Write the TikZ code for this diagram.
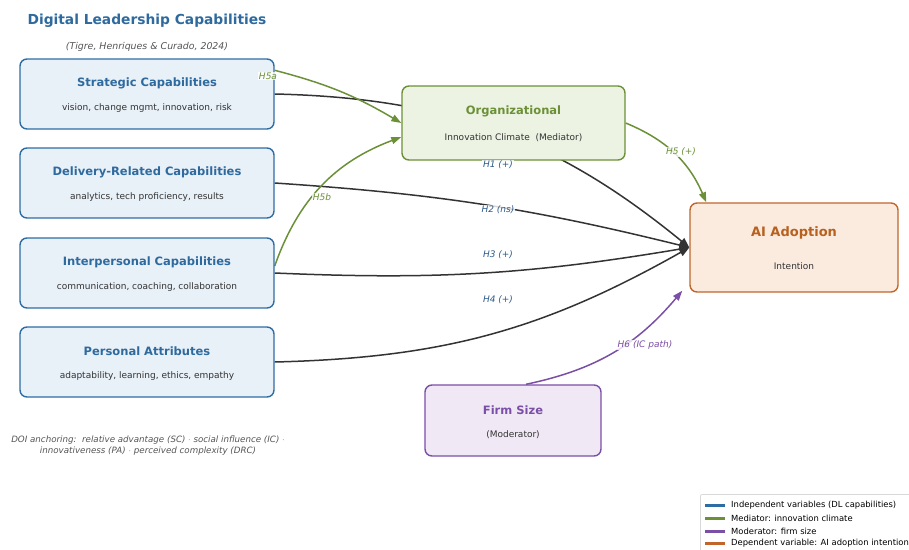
\documentclass[tikz,border=0pt]{standalone}
\usepackage{fontspec}
\setmainfont{DejaVu Sans}
\usetikzlibrary{arrows.meta,backgrounds,calc}
\definecolor{ivc}{HTML}{2E6DA4}
\definecolor{ivfill}{HTML}{E8F0F8}
\definecolor{ivt}{HTML}{2E6A9E}
\definecolor{hlab}{HTML}{2E5A8A}
\definecolor{medc}{HTML}{6B9037}
\definecolor{medfill}{HTML}{ECF3E2}
\definecolor{modc}{HTML}{7B4FA6}
\definecolor{modfill}{HTML}{F0E9F5}
\definecolor{dvc}{HTML}{C0662A}
\definecolor{dvfill}{HTML}{FBEBDF}
\definecolor{dvt}{HTML}{B8601E}
\definecolor{dark}{HTML}{333333}
\definecolor{txt}{HTML}{333333}
\definecolor{gtxt}{HTML}{555555}
\begin{document}
\begin{tikzpicture}[x=1pt,y=-1pt,
  box/.style={draw, rounded corners=7pt, line width=1.4pt, inner sep=0pt},
  ivbox/.style={box, draw=ivc, fill=ivfill, minimum width=254pt, minimum height=70pt},
  ttl/.style={font=\bfseries\fontsize{11.5}{13}\selectfont, inner sep=0pt},
  subt/.style={font=\fontsize{9}{11}\selectfont, text=txt, inner sep=0pt},
  hl/.style={font=\itshape\fontsize{9}{10}\selectfont, fill=white, fill opacity=0.8, text opacity=1, inner sep=1pt},
  darr/.style={draw=dark, line width=1.5pt, -{Triangle[length=10pt,width=8pt]}},
  garr/.style={draw=medc, line width=1.5pt, -{Triangle[length=10pt,width=7pt]}},
  parr/.style={draw=modc, line width=1.5pt, -{Triangle[length=10pt,width=7pt]}},
  legline/.style={line width=3pt},
  legtext/.style={font=\fontsize{8.4}{9}\selectfont, anchor=west, inner sep=0pt, text=black}
]
\useasboundingbox (0,0) rectangle (909,549);

% title
\node[font=\bfseries\fontsize{13.8}{16}\selectfont, text=ivt] (title) at (147,21) {Digital Leadership Capabilities};
\node[font=\itshape\fontsize{9.4}{10}\selectfont, text=gtxt] (cite) at (147,47) {(Tigre, Henriques \& Curado, 2024)};

% boxes
\node[ivbox] (sc) at (147,94) {};
\node[ivbox] (dr) at (147,183) {};
\node[ivbox] (ip) at (147,273) {};
\node[ivbox] (pa) at (147,362) {};
\node[box, draw=medc, fill=medfill, minimum width=223pt, minimum height=74pt] (org) at (513.5,123) {};
\node[box, draw=dvc, fill=dvfill, minimum width=208pt, minimum height=89pt] (ai) at (794,247.5) {};
\node[box, draw=modc, fill=modfill, minimum width=176pt, minimum height=71pt] (fs) at (513,420.5) {};

% box texts
\node[ttl, text=ivt] (sct) at ($(sc)+(0,-11)$) {Strategic Capabilities};
\node[subt] (scs) at ($(sc)+(0,14)$) {vision, change mgmt, innovation, risk};
\node[ttl, text=ivt] (drt) at ($(dr)+(0,-11)$) {Delivery-Related Capabilities};
\node[subt] (drs) at ($(dr)+(0,14)$) {analytics, tech proficiency, results};
\node[ttl, text=ivt] (ipt) at ($(ip)+(0,-11)$) {Interpersonal Capabilities};
\node[subt] (ips) at ($(ip)+(0,14)$) {communication, coaching, collaboration};
\node[ttl, text=ivt] (pat) at ($(pa)+(0,-11)$) {Personal Attributes};
\node[subt] (pas) at ($(pa)+(0,14)$) {adaptability, learning, ethics, empathy};
\node[ttl, text=medc] (orgt) at ($(org)+(0,-12)$) {Organizational};
\node[subt] (orgs) at ($(org)+(0,15)$) {Innovation Climate\ \ (Mediator)};
\node[font=\bfseries\fontsize{13}{15}\selectfont, text=dvt, inner sep=0pt] (ait) at ($(ai)+(0,-14.5)$) {AI Adoption};
\node[subt] (ais) at ($(ai)+(0,18.5)$) {Intention};
\node[ttl, text=modc] (fst) at ($(fs)+(0,-10.5)$) {Firm Size};
\node[subt] (fss) at ($(fs)+(0,14.5)$) {(Moderator)};

% connectors (behind boxes)
\begin{scope}[on background layer]
\draw[darr] (sc.east) to[bend left=19] (ai.west);
\draw[darr] (dr.east) to[bend left=5] (ai.west);
\draw[darr] (ip.east) to[bend right=6] (ai.west);
\draw[darr] (pa.east) to[bend right=14] (ai.west);
\coordinate (h5as) at ($(sc.north east)+(0,12)$);
\coordinate (h5bs) at ($(ip.east)+(0,-7)$);
\coordinate (h5be) at ($(org.west)+(0,14)$);
\coordinate (h5e) at ($(ai.north west)+(17,0)$);
\coordinate (h6s) at ($(fs.north)+(13,0)$);
\coordinate (h6e) at ($(ai.south west)+(-7,-2)$);
\draw[garr] (h5as) to[bend left=8] (org.west);
\draw[garr] (h5bs) to[bend left=25] (h5be);
\draw[garr] (org.east) to[bend left=22] (h5e);
\draw[parr] (h6s) to[bend right=19] (h6e);
\end{scope}

% path labels
\node[hl, text=hlab] (l1) at (498,165) {H1 (+)};
\node[hl, text=hlab] (l2) at (498,210) {H2 (ns)};
\node[hl, text=hlab] (l3) at (498,255) {H3 (+)};
\node[hl, text=hlab] (l4) at (498,300) {H4 (+)};
\node[hl, text=medc] (l5a) at (268,76) {H5a};
\node[hl, text=medc] (l5b) at (322,197) {H5b};
\node[hl, text=medc] (l5) at (681,152) {H5 (+)};
\node[hl, text=modc] (l6) at (645,345) {H6 (IC path)};

% DOI note
\node[font=\itshape\fontsize{8.7}{11}\selectfont, text=gtxt, align=center] (doi) at (148,445.5) {DOI anchoring:\ \ relative advantage (SC) $\cdot$ social influence (IC) $\cdot$\\innovativeness (PA) $\cdot$ perceived complexity (DRC)};

% legend
\node[draw=black!15, fill=white, line width=0.8pt, rounded corners=2pt, minimum width=212pt, minimum height=58pt, anchor=north west, inner sep=0pt] (leg) at (700,494) {};
\coordinate (a1) at (705,505); \coordinate (b1) at (725,505);
\coordinate (a2) at (705,518); \coordinate (b2) at (725,518);
\coordinate (a3) at (705,531); \coordinate (b3) at (725,531);
\coordinate (a4) at (705,543); \coordinate (b4) at (725,543);
\draw[legline, ivc] (a1) -- (b1);
\draw[legline, medc] (a2) -- (b2);
\draw[legline, modc] (a3) -- (b3);
\draw[legline, dvc] (a4) -- (b4);
\node[legtext] (t1) at (731,505) {Independent variables (DL capabilities)};
\node[legtext] (t2) at (731,518) {Mediator: innovation climate};
\node[legtext] (t3) at (731,531) {Moderator: firm size};
\node[legtext] (t4) at (731,543) {Dependent variable: AI adoption intention};
\end{tikzpicture}
\end{document}
